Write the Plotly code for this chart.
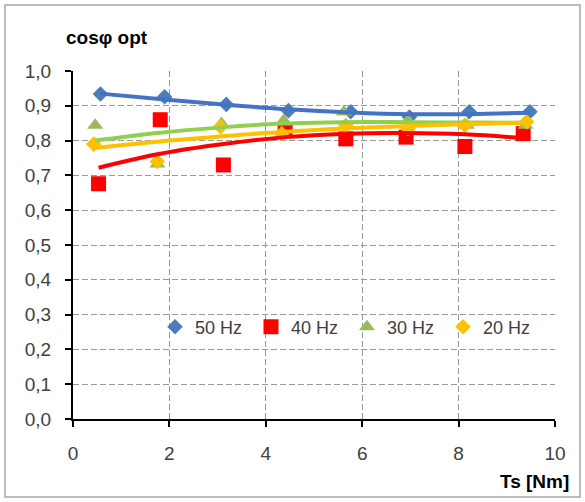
import plotly.graph_objects as go

# Data
x50 = [0.57, 1.90, 3.18, 4.47, 5.76, 6.98, 8.22, 9.48]
y50 = [0.934, 0.926, 0.904, 0.886, 0.883, 0.868, 0.883, 0.883]
t50 = [0.935, 0.918, 0.903, 0.890, 0.881, 0.876, 0.876, 0.880]

x40 = [0.53, 1.81, 3.12, 4.40, 5.66, 6.91, 8.13, 9.34]
y40 = [0.676, 0.860, 0.730, 0.829, 0.805, 0.810, 0.783, 0.820]
t40 = [0.722, 0.762, 0.790, 0.810, 0.820, 0.822, 0.818, 0.807]

x30 = [0.46, 1.75, 3.08, 4.37, 5.62, 6.95, 8.17, 9.39]
y30 = [0.844, 0.733, 0.849, 0.858, 0.882, 0.858, 0.844, 0.844]
t30 = [0.800, 0.822, 0.838, 0.849, 0.853, 0.853, 0.852, 0.851]

x20 = [0.43, 1.75, 3.06, 4.33, 5.66, 6.95, 8.13, 9.41]
y20 = [0.790, 0.740, 0.840, 0.820, 0.844, 0.834, 0.844, 0.854]
t20 = [0.779, 0.797, 0.812, 0.825, 0.835, 0.842, 0.847, 0.852]

labels = ["50 Hz", "40 Hz", "30 Hz", "20 Hz"]
x_ticks = [0, 2, 4, 6, 8, 10]
y_ticks = [0.0, 0.1, 0.2, 0.3, 0.4, 0.5, 0.6, 0.7, 0.8, 0.9, 1.0]

marker_colors = ["#4a7ebb", "#ff0000", "#9bbb59", "#ffc000"]
line_colors = ["#4472c4", "#ff0000", "#8fd14f", "#ffc000"]
symbols = ["diamond", "square", "triangle-up", "diamond"]
sizes = [12, 15, 14, 12]

series = [(x50, y50, t50), (x40, y40, t40), (x30, y30, t30), (x20, y20, t20)]

fig = go.Figure()
for i, (xs, ys, ts) in enumerate(series):
    fig.add_trace(go.Scatter(
        x=xs, y=ys, mode="markers", name=labels[i],
        marker=dict(symbol=symbols[i], size=sizes[i], color=marker_colors[i],
                    line=dict(width=0)),
        showlegend=True,
    ))
for i, (xs, ys, ts) in enumerate(series):
    fig.add_trace(go.Scatter(
        x=xs, y=ts, mode="lines", line=dict(color=line_colors[i], width=4, shape="spline"),
        showlegend=False, hoverinfo="skip",
    ))

W, H = 585, 502
PL, PR, PT, PB = 73, 555, 71, 419  # plot area in screen pixels
L, T = PL, PT
R, B = W - PR, H - PB
pw, ph = PR - PL, PB - PT

def px_x(p):
    return (p - PL) / pw

def px_y(p):
    return (PB - p) / ph

fig.update_layout(
    width=W, height=H,
    margin=dict(l=L, r=R, t=T, b=B, pad=0),
    paper_bgcolor="white", plot_bgcolor="white",
    separators=", ",
    font=dict(family="Liberation Sans, Arial, sans-serif", color="#404040"),
    xaxis=dict(
        range=[0, 10], tickvals=x_ticks, tickformat="d",
        showline=True, linecolor="black", linewidth=2,
        ticks="outside", ticklen=6, tickwidth=2, tickcolor="black",
        showgrid=True, gridcolor="#9a9a9a", gridwidth=1, griddash="6px,3px",
        zeroline=False, tickfont=dict(size=19, color="#404040"),
        ticklabelstandoff=10,
    ),
    yaxis=dict(
        range=[0, 1.0], tickvals=y_ticks, tickformat=".1f",
        showline=True, linecolor="black", linewidth=2,
        ticks="outside", ticklen=6, tickwidth=2, tickcolor="black",
        showgrid=True, gridcolor="#9a9a9a", gridwidth=1, griddash="6px,3px",
        zeroline=False, tickfont=dict(size=19, color="#404040"),
        ticklabelstandoff=10,
    ),
    legend=dict(
        orientation="h", x=px_x(155), y=px_y(327), xanchor="left", yanchor="middle",
        bgcolor="rgba(0,0,0,0)", font=dict(size=18, color="#404040"),
        entrywidth=51, itemwidth=30,
    ),
    shapes=[dict(type="rect", xref="paper", yref="paper",
                 x0=px_x(5), x1=px_x(580), y0=px_y(497), y1=px_y(5),
                 line=dict(color="#a6a6a6", width=1.5), layer="below")],
    annotations=[
        dict(text="<b>cosφ opt</b>", xref="paper", yref="paper",
             x=px_x(107), y=px_y(38), xanchor="center", yanchor="middle",
             showarrow=False, font=dict(size=19, color="black")),
        dict(text="<b>Ts [Nm]</b>", xref="paper", yref="paper",
             x=px_x(571), y=px_y(481), xanchor="right", yanchor="middle",
             showarrow=False, font=dict(size=19, color="black")),
    ],
)

fig.write_html("out.html",
               config={"displayModeBar": False},
               post_script="document.body.style.margin='0';document.body.style.overflow='hidden';")
